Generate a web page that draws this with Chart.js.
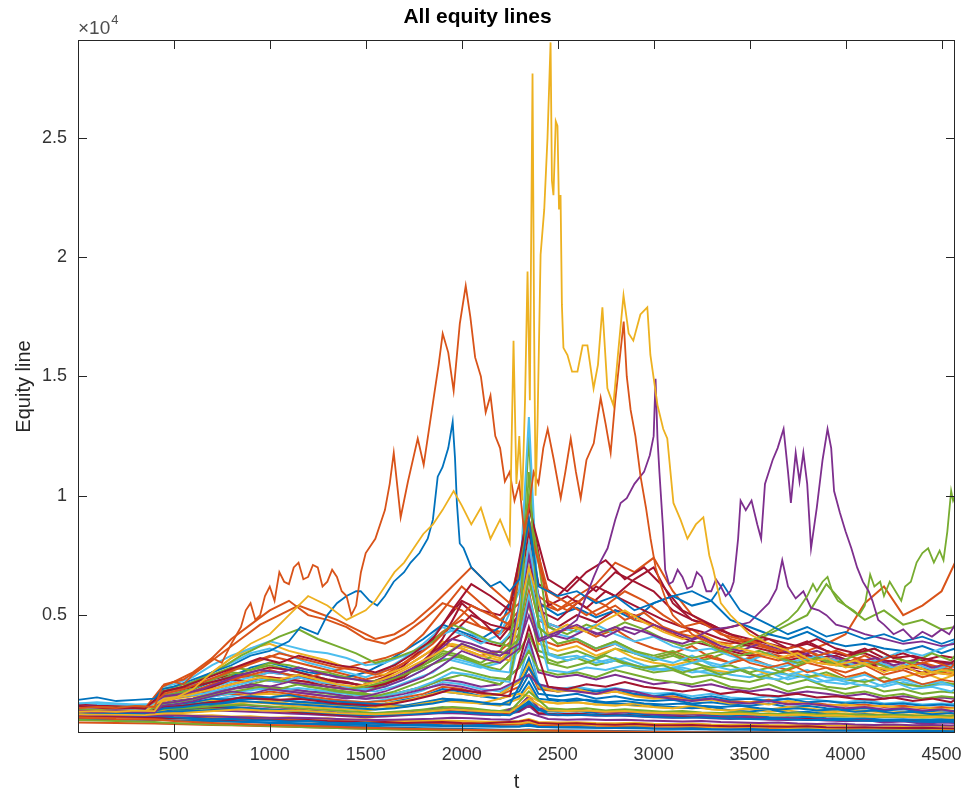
<!DOCTYPE html>
<html>
<head>
<meta charset="utf-8">
<title>All equity lines</title>
<script src="https://cdn.jsdelivr.net/npm/chart.js@4.4.1/dist/chart.umd.min.js"></script>
<style>
    html, body { margin: 0; padding: 0; background: #fff; }
    canvas { display: block; }
</style>
</head>
<body>
<canvas id="equityChart" width="966" height="794"></canvas>
<script>
// Axis ticks
const xTicks = [500, 1000, 1500, 2000, 2500, 3000, 3500, 4000, 4500];
const yTicks = [5000, 10000, 15000, 20000, 25000];

// Sampling times for the background equity lines (two interleaved grids)
const tGrid = [1,100,200,300,400,440,500,600,700,800,900,1000,1100,1200,1300,1400,1500,1600,1700,1800,1900,2000,2100,2200,2300,2350,2400,2500,2600,2700,2800,2900,3000,3100,3200,3300,3400,3500,3600,3700,3800,3900,4000,4100,4200,4300,4400,4500,4570];
const tGridB = [1,50,150,250,350,450,550,650,750,850,950,1050,1150,1250,1350,1450,1550,1650,1750,1850,1950,2050,2150,2250,2350,2450,2550,2650,2750,2850,2950,3050,3150,3250,3350,3450,3550,3650,3750,3850,3950,4050,4150,4250,4350,4450,4550,4570];

// Background equity lines on tGrid
const eq01 = [900,860,820,790,770,760,720,680,640,660,600,580,540,560,500,470,490,430,400,420,380,360,390,340,330,420,320,300,310,280,270,290,250,240,260,220,210,230,200,190,210,180,170,180,160,150,160,140,130];
const eq02 = [700,680,650,640,620,600,560,520,480,450,430,400,380,350,330,300,280,260,240,230,210,200,190,180,170,190,160,150,140,130,120,110,105,100,95,90,85,80,78,75,72,70,68,65,62,60,58,55,52];
const eq03 = [1050,1000,980,1020,990,1000,1150,1200,1300,1250,1350,1400,1300,1250,1200,1150,1100,1200,1150,1300,1400,1350,1300,1500,1700,1600,1400,1300,1350,1250,1200,1300,1150,1100,1200,1050,1000,1100,1050,1150,1100,1000,950,1000,900,950,880,920,850];
const eq04 = [1200,1150,1100,1080,1050,1500,1550,1650,1800,1900,2100,2000,1900,1800,1750,1600,1500,1550,1700,1900,2100,2000,1800,1900,2300,2500,2100,1900,1800,1700,1900,1800,1600,1500,1400,1500,1350,1300,1400,1250,1300,1200,1100,1150,1050,1100,1000,1050,950];
const eq05 = [1100,1150,1120,1180,1150,1900,2000,2200,2500,2800,2700,3000,2900,2700,2600,2400,2200,2300,2500,2800,3100,3300,2900,2700,3500,4200,3300,3000,3200,2900,3100,2800,2600,2700,2400,2500,2300,2200,2400,2100,2300,2000,1900,2100,1800,1900,1700,1800,1750];
const eq06 = [1300,1350,1300,1250,1280,2000,2100,2400,2900,3300,3600,3900,3700,3500,3400,3200,2900,3000,3300,3600,4200,4500,4000,3800,4600,7000,4800,4500,4300,4600,4200,3900,4100,3700,3500,3600,3300,3100,3400,3000,3200,3400,3100,2900,3200,3500,3300,3600,3900];
const eq07 = [800,780,760,740,720,700,680,700,650,620,640,600,580,600,560,540,500,520,480,500,520,480,460,500,540,600,480,450,470,430,410,440,400,380,400,360,340,350,330,320,340,300,290,300,280,270,280,260,250];
const eq08 = [1000,980,950,930,900,1200,1250,1350,1500,1450,1600,1550,1650,1500,1400,1350,1300,1250,1200,1350,1500,1450,1300,1250,1600,2200,1500,1400,1500,1350,1300,1250,1200,1150,1100,1150,1000,950,1050,900,950,850,800,850,780,800,750,700,720];
const eq09 = [1100,1080,1050,1000,980,1500,1600,1800,2100,2300,2500,2700,2500,2400,2600,2800,3000,3200,3500,4200,5200,6200,5500,4800,5500,8000,5800,5200,5600,5000,5400,4800,4600,4200,4400,3900,3800,4000,3600,3400,3500,3200,3000,3300,2900,2800,3000,2700,2600];
const eq10 = [950,930,880,900,850,840,820,790,800,750,760,700,720,660,680,620,640,580,560,580,520,540,480,500,470,520,450,430,440,390,400,370,380,340,350,310,330,290,300,270,280,250,260,230,240,210,220,200,190];
const eq11 = [1250,1200,1180,1150,1100,1800,1900,2000,2200,2400,2600,2800,2700,2500,2300,2200,2000,2100,2400,3000,4000,5500,4800,4000,5000,7500,5200,4800,5500,6200,5800,6500,7000,5500,4800,4500,4200,3800,4000,3600,3800,3500,3300,3400,3100,3000,3200,3000,2900];
const eq12 = [1150,1100,1080,1050,1020,1600,1700,1900,2300,2600,2500,2300,2200,2000,1900,1800,1700,1600,1800,2000,2300,2500,2300,2100,2800,3500,2700,2500,2600,2400,2700,2500,2300,2200,2100,2300,2000,1900,2100,1800,2000,1900,1700,1800,1600,1700,1500,1600,1550];
const eq13 = [1050,1020,1000,980,950,1100,1150,1200,1300,1250,1200,1150,1100,1000,950,900,850,900,950,1000,1100,1050,950,900,1200,1600,1100,1000,1050,950,900,950,850,800,850,750,700,750,650,700,600,650,550,600,500,550,450,500,480];
const eq14 = [1300,1280,1250,1220,1200,1800,1900,2100,2600,3000,3400,3600,3300,3000,2800,2600,2400,2700,3200,3800,4500,4200,3800,4200,6000,13300,5000,4200,4000,3600,3800,3400,3200,3000,3300,2900,2700,2800,2600,2500,2700,2400,2300,2500,2200,2300,2100,2200,2000];
const eq15 = [1000,980,950,930,920,1300,1350,1500,1700,1900,2100,2000,1900,1800,1700,1600,1800,2100,2500,3000,3500,3300,3000,3500,5000,12500,4500,3800,4000,3600,3900,3500,3200,3400,3000,2800,2900,2600,2800,2500,2400,2600,2300,2200,2400,2100,2000,2200,2100];
const eq16 = [850,830,800,780,760,750,700,650,600,560,520,480,450,420,380,350,330,300,280,260,250,240,220,200,190,210,180,170,160,150,140,130,125,120,115,110,100,95,90,85,80,78,75,72,70,68,65,62,60];
const eq17 = [1200,1180,1150,1100,1080,1400,1500,1600,1700,1800,1650,1700,1600,1500,1400,1300,1250,1300,1400,1600,1800,1700,1600,1700,2200,3000,2000,1800,1900,1700,1800,1600,1500,1550,1400,1450,1300,1350,1250,1400,1300,1200,1250,1150,1200,1100,1150,1050,1100];
const eq18 = [1100,1080,1050,1020,1000,1600,1700,1900,2200,2400,2800,3000,2800,2600,2500,2400,2600,3000,3500,4000,4600,4300,4000,4500,6500,9000,5500,5000,5300,4900,5200,4800,5500,5800,5400,5600,4800,4500,4200,4000,4300,3900,3700,3800,3600,3500,3700,3400,3600];
const eq19 = [1150,1120,1100,1080,1050,2000,2200,2600,3200,4000,4600,5200,5600,5000,4800,4500,4000,3800,4200,4800,5500,5200,4500,4200,5000,6500,4800,4300,4500,4100,4400,3900,3600,3400,3700,3200,3000,3200,2900,2700,3000,2800,2600,2900,2500,2700,2400,2600,2500];
const eq20 = [1100,1080,1050,1020,1000,1700,1800,2100,2600,3200,3600,3800,3500,3300,3100,2800,2600,2500,2800,3300,3900,3600,3300,3100,4000,5500,3800,3500,3700,3300,3600,3200,3000,2900,3100,2700,2600,2800,2500,2700,2400,2500,2300,2600,2200,2400,2600,2300,2500];
const eq21 = [1000,1020,1000,980,960,1400,1500,1700,2000,2300,2200,2400,2300,2200,2000,1900,2100,2400,2900,3600,4600,5600,5200,5000,6000,8500,6300,5800,6600,6000,6800,6400,6000,5200,4800,4600,4200,4000,3800,3600,3900,3500,3300,3600,3200,3400,3100,3300,3200];
const eq22 = [1050,1030,1000,980,960,1300,1400,1500,1700,1900,2000,1900,1800,1700,1600,1550,1500,1600,1800,2000,2300,2200,2000,2100,2800,4000,2600,2400,2500,2300,2500,2300,2100,2200,2000,2100,1900,1800,1900,1700,1800,1700,1600,1700,1500,1600,1500,1550,1500];
const eq23 = [900,880,870,860,850,1000,1050,1100,1200,1150,1100,1050,1000,950,900,850,800,850,900,1000,1100,1050,950,900,1100,1400,1000,950,980,900,950,880,820,800,850,780,760,800,720,700,740,680,650,680,620,640,600,620,600];
const eq24 = [750,730,720,700,680,700,680,660,650,640,620,600,570,550,520,500,480,460,450,440,460,430,410,400,420,480,400,380,370,360,350,340,330,320,310,300,290,280,270,260,250,240,230,220,210,200,190,180,175];
const eq25 = [1100,1080,1060,1040,1020,1500,1600,1800,2100,2500,2700,2900,2700,2500,2300,2200,2000,2200,2500,2900,3400,3200,2900,3100,3800,5500,3500,3300,3500,3200,3600,3400,3100,3300,3000,3200,3500,3800,4200,4600,5000,6300,5400,4800,5200,4600,4800,4400,4500];
const eq26 = [1050,1030,1000,980,970,1400,1500,1700,2000,2300,2500,2400,2300,2200,2000,1900,2100,2400,2800,3300,3800,3600,3300,3500,4200,6000,4000,3700,3900,3500,3800,3400,3200,3400,3100,3300,3000,3200,3400,3200,3500,3800,4200,5500,6200,5000,5400,6000,7200];
const eq27 = [980,960,950,940,930,1100,1150,1200,1300,1400,1500,1450,1400,1300,1250,1200,1150,1250,1400,1600,1800,1700,1600,1700,2200,3200,2000,1800,1900,1800,1900,1700,1600,1700,1500,1600,1450,1500,1400,1500,1350,1400,1300,1350,1250,1300,1200,1250,1200];
const eq28 = [1120,1100,1080,1060,1040,1500,1600,1750,2000,2200,2400,2600,2500,2400,2200,2000,1900,2000,2300,2700,3200,3000,2800,3000,3800,6000,3500,3200,3300,3000,3200,2900,2700,2800,2600,2700,2500,2400,2600,2300,2500,2200,2100,2300,2000,2200,2000,2100,2050];
const eq29 = [950,930,900,880,860,1000,1050,1100,1150,1100,1050,1000,950,900,850,800,780,800,850,900,1000,950,900,850,1000,1300,900,850,880,820,850,800,760,780,740,760,700,680,700,650,680,620,600,620,580,600,560,580,550];
const eq30 = [1000,980,960,940,920,1200,1250,1350,1450,1400,1350,1300,1200,1150,1100,1050,1000,1100,1200,1300,1500,1400,1300,1200,1500,2000,1400,1300,1350,1250,1300,1200,1150,1100,1150,1050,1000,1050,950,1000,900,950,850,900,800,850,780,800,760];
const eq31 = [1100,1080,1060,1040,1020,1600,1700,1900,2300,2700,3000,3300,3100,2900,2700,2500,2300,2500,3000,3600,4300,4800,4500,4300,5200,7000,5500,5200,5800,6300,7200,6800,7400,6000,5000,4500,4000,3800,3600,3400,3500,3200,3000,3100,2900,2800,3000,2800,2700];
const eq32 = [600,580,560,540,520,500,480,450,420,400,380,350,330,300,280,260,240,220,200,190,180,170,160,150,145,150,140,130,120,110,100,95,90,85,80,75,70,65,60,58,55,52,50,48,46,44,42,40,38];
const eq33 = [1050,1000,1020,980,990,1200,1250,1300,1400,1500,1600,1500,1400,1350,1300,1250,1200,1300,1450,1600,1900,1800,1600,1500,1800,2500,1700,1600,1700,1500,1600,1450,1400,1450,1300,1350,1250,1200,1300,1150,1200,1100,1050,1100,1000,1050,950,1000,980];
const eq34 = [1100,1050,1000,1020,980,1300,1350,1450,1600,1700,1650,1800,1700,1600,1500,1400,1350,1400,1550,1700,2000,1900,1700,1650,2000,2800,1900,1800,1850,1700,1800,1650,1550,1600,1450,1500,1400,1350,1450,1300,1350,1250,1200,1250,1150,1200,1100,1150,1100];
const eq35 = [880,860,850,830,820,900,920,950,1000,980,950,920,880,850,800,760,720,750,800,850,900,880,820,800,950,1200,850,800,820,780,800,760,720,700,720,680,650,680,620,600,640,580,560,580,540,560,520,540,510];
const eq36 = [1000,990,970,960,940,1150,1200,1300,1450,1600,1750,1700,1600,1550,1450,1400,1350,1450,1600,1850,2200,2100,1900,1800,2300,3800,2100,1900,2000,1850,1950,1800,1700,1750,1600,1700,1550,1500,1600,1450,1500,1400,1350,1450,1300,1350,1250,1300,1280];
const eq37 = [1150,1120,1100,1080,1060,1700,1800,2000,2300,2500,2400,2600,2500,2300,2100,2000,1900,2100,2500,3100,3800,4200,3900,3700,4500,6800,4800,4500,5000,4700,5200,5000,4600,4200,3900,3700,3500,3300,3400,3100,3300,3000,2900,3000,2700,2800,2600,2700,2600];
const eq38 = [920,900,880,860,850,950,980,1050,1100,1150,1100,1050,1000,950,900,880,850,900,950,1050,1150,1100,1000,980,1150,1600,1050,1000,1020,950,1000,950,900,880,920,850,820,850,800,780,820,760,740,760,720,740,700,720,700];
const eq39 = [780,760,750,730,720,740,720,700,690,680,660,650,630,610,590,570,550,560,540,560,580,560,540,520,560,650,520,500,510,480,470,490,450,440,460,420,410,430,400,390,410,380,370,380,360,350,360,340,330];
const eq40 = [650,640,620,610,600,610,590,570,550,530,520,500,480,460,440,420,400,380,370,360,350,340,330,320,330,360,310,300,290,280,270,260,250,240,230,220,210,200,190,180,175,170,165,160,155,150,145,140,135];
const eq41 = [500,490,480,470,460,450,440,420,400,380,360,340,320,300,280,260,240,230,220,210,200,190,180,170,165,170,160,150,140,130,120,115,110,105,100,95,90,85,80,75,70,68,65,62,60,58,55,52,50];

// Background equity lines on tGridB
const eq42 = [1200,1150,1100,1120,1080,1800,2000,2300,2600,2900,3200,3000,3300,3100,2900,2800,2600,2900,3400,4000,5200,6300,5800,5200,9500,6500,6000,6800,7300,6500,7000,6200,5200,4800,4400,4600,4100,3900,3700,4000,3600,3400,3600,3200,3300,3100,3000,3100];
const eq43 = [1050,1020,1000,990,970,1500,1600,1800,2000,2200,2400,2300,2500,2300,2100,2000,2200,2500,2900,3300,3800,3600,3300,3100,7000,4200,4600,4300,4800,5200,4700,4300,4000,4200,3800,3600,3400,3200,3400,3000,2900,3100,2800,2700,2900,2600,2500,2600];
const eq44 = [1000,980,970,960,950,1300,1400,1550,1700,1850,2000,1900,2100,1950,1800,1700,1600,1800,2100,2400,2800,2600,2400,2300,6500,3000,2800,3000,3300,3000,2800,2900,2600,2800,2500,2700,2400,2600,2900,3200,3000,3300,3600,3200,3000,3400,3100,3300];
const eq45 = [1150,1120,1100,1080,1060,1500,1600,1700,1900,2100,2300,2200,2400,2200,2100,1900,1800,2000,2300,2600,3200,3000,2700,2600,8000,3400,3100,3300,3000,3200,2900,2700,2800,2600,2500,2700,2400,2300,2500,2200,2300,2100,2000,2200,1900,2000,1800,1900];
const eq46 = [1100,1080,1060,1050,1040,1700,1900,2200,2500,2800,3100,3400,3200,3000,2800,2700,2500,2800,3200,3800,4600,5400,5000,4600,8800,5600,5200,5800,5400,6000,5600,5000,4500,4700,4200,4000,3800,3500,3700,3300,3500,3200,3000,3300,2900,3100,2800,3000];
const eq47 = [950,930,920,900,890,1100,1150,1250,1300,1400,1350,1300,1250,1200,1150,1100,1050,1100,1200,1300,1450,1400,1300,1250,2800,1500,1400,1450,1350,1400,1300,1250,1300,1200,1150,1200,1100,1050,1100,1000,1050,950,1000,900,950,850,900,870];
const eq48 = [1080,1060,1040,1020,1000,1600,1700,1900,2200,2500,2700,2600,2800,2600,2400,2300,2200,2400,2800,3300,4000,3800,3500,3400,7500,4200,4000,4400,4100,4500,4300,4000,3800,4100,3700,3500,3800,3600,3300,3500,3200,3000,3200,2900,3100,2800,3000,2900];
const eq49 = [980,960,950,940,920,1150,1200,1300,1400,1550,1500,1450,1500,1400,1300,1250,1200,1300,1450,1650,1900,1800,1700,1600,4500,2000,1900,2100,2000,2200,2000,1900,1800,1900,1700,1800,1650,1600,1700,1550,1600,1500,1450,1550,1400,1500,1350,1450];
const eq50 = [850,840,830,820,810,880,900,950,1000,1050,1000,980,1000,950,900,870,850,880,920,980,1050,1000,950,920,1500,1000,980,1000,950,980,920,900,880,900,850,870,820,800,830,780,800,760,740,760,720,740,700,720];
const eq51 = [1120,1100,1090,1070,1050,1800,2000,2400,2800,3300,3700,4100,4400,4000,3700,3400,3000,3200,3500,3900,4600,4300,3900,3700,10000,4500,4200,4600,4300,4700,4400,4000,3700,3900,3500,3300,3500,3200,3000,3200,2900,2800,3000,2700,2900,2600,2700,2600];
const eq52 = [1000,990,980,970,960,1300,1400,1500,1650,1800,1900,1850,1950,1850,1750,1650,1600,1700,1900,2200,2600,2500,2300,2200,5800,2700,2600,2800,2700,2900,2800,2700,2900,3100,2900,3200,3000,2800,3000,3300,3100,2900,3100,2800,3000,2700,2900,2800];
const eq53 = [920,900,880,860,840,950,970,1000,1050,1100,1050,1000,980,950,900,850,800,830,860,900,950,900,850,800,1300,850,800,820,780,800,750,720,700,720,680,660,640,660,620,600,620,580,560,580,540,520,540,510];
const eq54 = [1180,1150,1130,1100,1090,2100,2300,2800,3400,4000,4600,5000,5400,5100,4800,4400,4000,4200,4700,5400,6200,7000,6200,5500,9000,6000,5500,5000,5400,4800,5100,4500,4200,4000,3700,3500,3300,3100,3300,3000,2900,3100,2800,2700,2900,2600,2500,2600];
const eq55 = [1060,1040,1020,1000,990,1500,1600,1800,2000,2200,2300,2200,2400,2300,2200,2100,2000,2300,2700,3300,4200,5000,4600,4400,9800,5400,5800,5300,6000,5600,5200,4800,4500,4300,4000,3800,3600,3400,3500,3200,3300,3000,2900,3100,2800,2700,2900,2800];
const eq56 = [1000,980,960,950,940,1050,1100,1150,1200,1250,1200,1150,1100,1050,1000,950,900,950,1000,1050,1150,1100,1000,950,1800,1100,1050,1100,1000,1050,1000,950,980,920,900,940,880,860,900,840,860,820,800,830,780,800,760,780];
const eq57 = [820,810,800,790,780,800,780,760,740,720,700,690,700,680,650,620,600,620,640,660,700,680,640,620,900,650,620,640,600,620,580,560,540,560,520,500,480,500,460,440,460,420,400,420,380,400,370,390];

// Outlying equity lines, each with its own sampling times
const tOrange = [1,100,200,300,400,440,500,550,600,650,700,750,800,850,875,900,925,950,975,1000,1025,1050,1075,1100,1125,1150,1175,1200,1225,1250,1275,1300,1325,1350,1375,1400,1425,1450,1475,1500,1550,1600,1625,1646,1682,1720,1771,1802,1830,1854,1880,1901,1930,1958,1990,2021,2045,2070,2100,2125,2150,2175,2200,2225,2250,2275,2300,2325,2350,2375,2400,2425,2448,2480,2516,2540,2568,2595,2620,2650,2688,2724,2750,2776,2800,2820,2844,2860,2880,2905,2932,2960,2984,3010,3040,3070,3100,3150,3200,3300,3400,3500,3600,3700,3800,3900,4000,4100,4200,4300,4400,4500,4570];
const vOrange = [1100,1150,1100,1200,1150,2000,2200,2100,2500,2800,3200,3000,3800,4500,5200,5500,4800,5000,5800,6200,5600,6800,6400,6300,7000,7200,6500,6600,7100,7000,6200,6400,6900,6600,6000,5800,5000,5400,6800,7600,8200,9400,10500,11800,9100,10600,12400,11300,12800,14100,15500,16800,16000,14400,17200,18800,17500,15800,15000,13500,14200,12500,12000,10600,11000,9800,10500,8500,9500,11000,10500,12000,12800,11500,9900,11000,12400,11000,9900,11500,12200,14100,13000,11800,14000,15500,17300,15000,13600,12500,10800,9500,8200,7000,6200,5500,5000,4600,4200,3800,3400,3000,2800,3000,2600,2800,2400,2600,2200,2400,2100,2300,2200];

const tYellow = [1,100,200,300,400,440,500,600,700,800,900,1000,1100,1200,1300,1400,1500,1550,1600,1650,1700,1750,1800,1850,1900,1958,2000,2050,2100,2150,2200,2250,2270,2285,2300,2315,2330,2343,2355,2369,2377,2385,2395,2411,2430,2447,2463,2470,2478,2490,2499,2507,2515,2522,2530,2551,2575,2603,2630,2655,2687,2710,2733,2759,2790,2815,2843,2870,2894,2931,2967,2983,3020,3050,3071,3103,3140,3176,3220,3259,3290,3311,3350,3400,3500,3600,3700,3800,3900,4000,4100,4200,4300,4400,4500,4570];
const vYellow = [950,980,950,1000,980,1400,1500,1900,2600,3200,3800,4200,5000,5800,5400,4800,5200,5600,6200,6800,7200,7800,8400,8800,9400,10200,9600,8800,9500,8200,9000,8000,16500,10500,12500,9800,14000,19400,14000,27700,17300,10000,13000,20100,22000,25000,29000,23200,22600,25700,25500,22000,22600,18000,16200,15900,15200,15200,16300,16300,14500,15500,17900,14500,13800,16000,18400,16800,16500,17600,17900,15900,13800,12800,12400,9700,9000,8200,8800,9100,7500,6900,5500,5000,4200,3800,3500,3000,3200,2800,3000,2600,2900,2500,2700,2600];

const tBlue = [1,100,200,300,400,440,500,600,700,800,900,1000,1100,1160,1250,1300,1350,1400,1450,1474,1520,1560,1600,1646,1700,1734,1780,1823,1850,1875,1900,1930,1953,1965,1975,1990,2010,2050,2100,2150,2200,2250,2300,2350,2400,2500,2600,2700,2800,2900,3000,3100,3200,3300,3360,3400,3450,3500,3600,3700,3800,3900,4000,4100,4200,4300,4400,4500,4570];
const vBlue = [1450,1550,1400,1450,1500,1900,2000,2300,2600,2900,3300,3500,3900,4500,4200,5000,5500,5800,6000,6000,5600,5400,5800,6400,6800,7200,7600,8200,9000,10800,11200,12000,13100,11600,9700,8000,7800,7000,6600,6200,6400,6000,6500,9000,6200,5800,6000,5500,5800,5200,5500,5800,6000,5600,6300,5800,5200,5000,4600,4200,4500,4100,4300,4000,4200,3900,4100,3800,4000];

const tPurple = [1,100,200,300,400,440,500,600,700,800,900,1000,1100,1200,1300,1400,1500,1600,1700,1800,1900,2000,2100,2200,2300,2350,2400,2500,2600,2688,2720,2760,2800,2828,2860,2900,2950,2980,3000,3010,3020,3030,3050,3060,3080,3100,3125,3150,3175,3200,3225,3250,3275,3300,3325,3350,3375,3400,3417,3440,3453,3480,3510,3540,3560,3580,3620,3646,3677,3700,3715,3740,3760,3780,3800,3820,3850,3880,3906,3925,3940,3970,4000,4030,4060,4090,4120,4140,4170,4200,4250,4300,4350,4400,4450,4500,4540,4570];
const vPurple = [1000,980,1020,990,1000,1300,1350,1500,1700,1900,2100,2000,2200,2100,2000,1900,1800,2000,2300,2700,3200,3800,3500,3300,3800,5000,3900,4200,4800,6600,7200,7800,9000,9700,9900,10500,11000,11700,12500,14900,12400,11000,8500,6900,6300,6400,6900,6600,6100,6200,6800,6600,6000,6000,6500,6200,5800,6000,6400,8200,9800,9400,9800,8800,8200,10500,11500,12000,12800,11000,9700,11800,10600,11800,10500,7800,9500,11500,12800,12000,10200,9300,8500,7800,7000,6400,6000,5600,4800,4600,4200,4400,4000,4300,4100,4400,4200,4600];

const tPurple2 = [1,100,200,300,400,440,500,600,700,800,900,1000,1100,1200,1300,1400,1500,1600,1700,1800,1900,2000,2100,2200,2300,2350,2400,2500,2600,2700,2800,2900,3000,3100,3200,3300,3400,3500,3600,3640,3670,3700,3740,3780,3820,3860,3900,3950,4000,4100,4200,4300,4400,4500,4570];
const vPurple2 = [950,930,960,940,920,1200,1250,1400,1600,1800,1700,1900,1800,1700,1600,1500,1600,1800,2100,2400,2900,3500,3200,3000,3600,5500,4000,4300,4600,4200,4500,4200,4600,4300,4000,4400,4500,4700,5500,6100,7300,6200,5700,6000,5300,5200,5000,4600,4500,4200,4000,3800,3900,3700,3800];

const tGreen = [1,100,200,300,400,440,500,600,700,800,900,1000,1100,1200,1300,1400,1500,1600,1700,1800,1900,2000,2100,2200,2300,2350,2400,2500,2600,2700,2800,2900,3000,3100,3200,3300,3400,3500,3600,3700,3750,3800,3830,3850,3880,3906,3930,3960,4000,4040,4070,4100,4128,4150,4180,4200,4230,4260,4290,4310,4340,4370,4400,4430,4460,4490,4510,4530,4550,4560,4570];
const vGreen = [1050,1020,1000,980,1000,1300,1350,1500,1700,1900,2100,2300,2200,2100,2000,1900,2000,2200,2500,2900,3300,3800,3500,3300,4000,11000,4500,3800,4000,3600,3900,3500,3300,3500,3200,3400,3600,3900,4300,4800,5200,5800,6300,6000,6400,6600,6000,5600,5400,5200,5000,5400,6700,6200,6400,5800,6400,6000,5600,6200,6400,7200,7600,7800,7200,7700,7300,8500,10200,9800,10000];

// MATLAB default colour order
const mBlue = '#0072BD', mOrange = '#D95319', mYellow = '#EDB120', mPurple = '#7E2F8E';
const mGreen = '#77AC30', mCyan = '#4DBEEE', mRed = '#A2142F';

const bgLines = [eq01, eq02, eq03, eq04, eq05, eq06, eq07, eq08, eq09, eq10, eq11, eq12, eq13, eq14,
    eq15, eq16, eq17, eq18, eq19, eq20, eq21, eq22, eq23, eq24, eq25, eq26, eq27, eq28, eq29, eq30,
    eq31, eq32, eq33, eq34, eq35, eq36, eq37, eq38, eq39, eq40, eq41];
const bgColors = [mBlue, mOrange, mYellow, mPurple, mGreen, mCyan, mRed, mBlue, mOrange, mYellow, mRed, mGreen, mPurple, mCyan,
    mGreen, mBlue, mYellow, mBlue, mOrange, mYellow, mRed, mPurple, mBlue, mOrange, mGreen, mOrange, mBlue, mCyan, mRed, mYellow,
    mOrange, mGreen, mBlue, mOrange, mPurple, mCyan, mRed, mGreen, mYellow, mBlue, mOrange];

const bgLinesB = [eq42, eq43, eq44, eq45, eq46, eq47, eq48, eq49, eq50, eq51, eq52, eq53, eq54, eq55, eq56, eq57];
const bgColorsB = [mRed, mYellow, mGreen, mCyan, mOrange, mBlue, mPurple, mRed, mYellow, mGreen, mCyan, mBlue, mOrange, mRed, mGreen, mPurple];

const FONT = '"Liberation Sans", Arial, Helvetica, sans-serif';

function toPoints(ts, vs) {
    const n = Math.min(ts.length, vs.length);
    const pts = [];
    for (let i = 0; i < n; i++) pts.push({ x: ts[i], y: vs[i] });
    return pts;
}

function lineDataset(ts, vs, color, width) {
    return {
        data: toPoints(ts, vs),
        borderColor: color,
        borderWidth: width,
        pointRadius: 0,
        tension: 0,
        fill: false,
        clip: 0
    };
}

// Outliers first so they are drawn on top
const datasets = [
    lineDataset(tYellow, vYellow, mYellow, 1.8),
    lineDataset(tOrange, vOrange, mOrange, 1.8),
    lineDataset(tPurple, vPurple, mPurple, 1.8),
    lineDataset(tBlue, vBlue, mBlue, 1.8),
    lineDataset(tGreen, vGreen, mGreen, 1.8),
    lineDataset(tPurple2, vPurple2, mPurple, 1.8)
];
bgLinesB.forEach((vals, i) => datasets.push(lineDataset(tGridB, vals, bgColorsB[i], 2)));
bgLines.forEach((vals, i) => datasets.push(lineDataset(tGrid, vals, bgColors[i], 2)));

// Box, inward ticks on all sides and the x10^4 exponent, MATLAB style
const matlabAxes = {
    id: 'matlabAxes',
    afterDatasetsDraw(chart) {
        const { ctx, chartArea, scales } = chart;
        const { left, right, top, bottom } = chartArea;
        const tickLen = 9;
        ctx.save();
        ctx.strokeStyle = '#262626';
        ctx.lineWidth = 1;
        ctx.strokeRect(left + 0.5, top + 0.5, right - left - 1, bottom - top - 1);
        ctx.beginPath();
        xTicks.forEach(v => {
            const px = Math.round(scales.x.getPixelForValue(v)) + 0.5;
            ctx.moveTo(px, bottom); ctx.lineTo(px, bottom - tickLen);
            ctx.moveTo(px, top); ctx.lineTo(px, top + tickLen);
        });
        yTicks.forEach(v => {
            const py = Math.round(scales.y.getPixelForValue(v)) + 0.5;
            ctx.moveTo(left, py); ctx.lineTo(left + tickLen, py);
            ctx.moveTo(right, py); ctx.lineTo(right - tickLen, py);
        });
        ctx.stroke();

        ctx.fillStyle = '#4d4d4d';
        ctx.textBaseline = 'alphabetic';
        ctx.textAlign = 'left';
        ctx.font = '19px ' + FONT;
        ctx.fillText('\u00d710', left, top - 6);
        const w = ctx.measureText('\u00d710').width;
        ctx.font = '13px ' + FONT;
        ctx.fillText('4', left + w + 1, top - 16);
        ctx.restore();
    }
};

const chart = new Chart(document.getElementById('equityChart'), {
    type: 'line',
    data: { datasets },
    options: {
        responsive: false,
        animation: false,
        devicePixelRatio: 1,
        parsing: false,
        normalized: true,
        layout: { padding: { left: 0, right: 11, top: 0, bottom: 0 } },
        plugins: {
            legend: { display: false },
            tooltip: { enabled: false },
            title: {
                display: true,
                text: 'All equity lines',
                color: '#000',
                font: { family: FONT, size: 21, weight: 'bold' },
                padding: { top: 5, bottom: 9.8 }
            }
        },
        scales: {
            x: {
                type: 'linear',
                min: 1,
                max: 4570,
                grid: { display: false, drawTicks: false },
                border: { display: false },
                afterBuildTicks: s => { s.ticks = xTicks.map(v => ({ value: v })); },
                afterFit: s => { s.height = 61; s.paddingLeft = 0; s.paddingRight = 0; },
                ticks: {
                    autoSkip: false,
                    maxRotation: 0,
                    padding: 11,
                    color: '#333',
                    font: { family: FONT, size: 18 },
                    callback: v => String(v)
                },
                title: {
                    display: true,
                    text: 't',
                    color: '#262626',
                    font: { family: FONT, size: 20 },
                    padding: { top: 0, bottom: 0 }
                }
            },
            y: {
                type: 'linear',
                min: 60,
                max: 29100,
                grid: { display: false, drawTicks: false },
                border: { display: false },
                afterBuildTicks: s => { s.ticks = yTicks.map(v => ({ value: v })); },
                afterFit: s => { s.width = 78; s.paddingTop = 0; s.paddingBottom = 0; },
                ticks: {
                    autoSkip: false,
                    padding: 11,
                    color: '#333',
                    font: { family: FONT, size: 18 },
                    callback: v => String(v / 10000)
                },
                title: {
                    display: true,
                    text: 'Equity line',
                    color: '#262626',
                    font: { family: FONT, size: 20 },
                    padding: { top: 12, bottom: 0 }
                }
            }
        }
    },
    plugins: [matlabAxes]
});
</script>
</body>
</html>
